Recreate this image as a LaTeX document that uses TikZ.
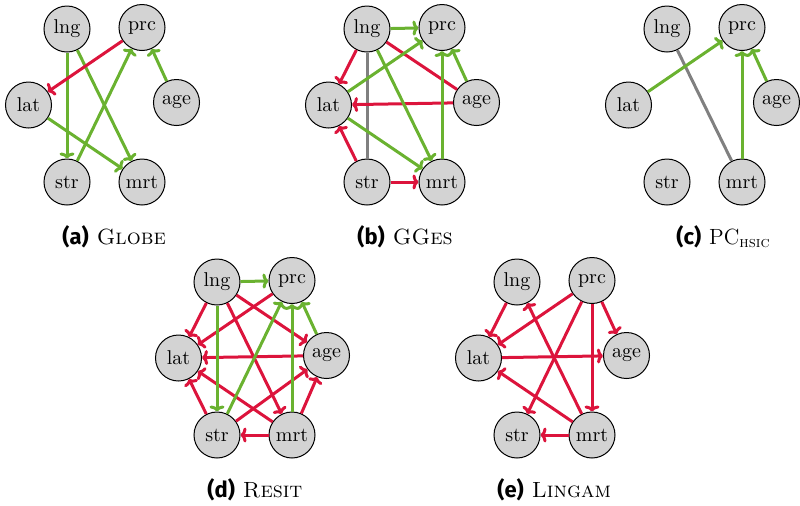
\documentclass[tikz,border=0pt]{standalone}
\usepackage{fontspec}
\newfontfamily\capfont{Fira Sans}
\usetikzlibrary{arrows.meta}
\definecolor{posgreen}{RGB}{106,178,48}
\definecolor{negred}{RGB}{220,20,60}
\definecolor{undgray}{RGB}{128,128,128}
\definecolor{vtxfill}{RGB}{211,211,211}

\tikzset{
  vtx/.style={circle, draw=black, line width=0.5pt, fill=vtxfill,
    minimum size=23pt, inner sep=0pt, font=\normalsize},
  edgeline/.style={line width=1.5pt},
  tipped/.style={-{To[length=3pt,width=7.5pt]}},
  gr/.style={edgeline, draw=posgreen, tipped},
  rd/.style={edgeline, draw=negred, tipped},
  rdline/.style={edgeline, draw=negred},
  gy/.style={edgeline, draw=undgray},
  captext/.style={anchor=base west, inner sep=0pt, font=\fontsize{11}{13}\selectfont},
}

% six variables placed round a panel centre (#2,#3), names prefixed by #1
\newcommand\graphnodes[3]{%
  \node[vtx] (#1lng) at ({#2-37.5},{#3-76})   {lng};
  \node[vtx] (#1prc) at ({#2+37.5},{#3-77.5}) {prc};
  \node[vtx] (#1lat) at ({#2-76},{#3})        {lat};
  \node[vtx] (#1age) at ({#2+72},{#3-2.5})    {age};
  \node[vtx] (#1str) at ({#2-37.5},{#3+77})   {str};
  \node[vtx] (#1mrt) at ({#2+37.5},{#3+77})   {mrt};
}
\newcommand\caplabel[1]{{\capfont\bfseries(#1)}\hspace{4pt}}

\begin{document}
\begin{tikzpicture}[x=0.5pt,y=-0.5pt]
\useasboundingbox (0,0) rectangle (800,505);

% (a) Globe
\graphnodes{a}{104.5}{105}
\draw[gr] (alng) -- (astr);
\draw[gr] (alng) -- (amrt);
\draw[gr] (alat) -- (amrt);
\draw[gr] (astr) -- (aprc);
\draw[gr] (aage) -- (aprc);
\draw[rd] (aprc) -- (alat);
\node[captext] (capa) at (62,244) {\caplabel{a}\textsc{Globe}};

% (b) GGes
\graphnodes{b}{404.5}{105}
\draw[gy] (blng) -- (bstr);
\draw[rdline] (blng) -- (bage);
\draw[rd] (bage) -- (blat);
\draw[rd] (blng) -- (blat);
\draw[rd] (bstr) -- (blat);
\draw[rd] (bstr) -- (bmrt);
\draw[gr] (blng) -- (bprc);
\draw[gr] (blng) -- (bmrt);
\draw[gr] (blat) -- (bprc);
\draw[gr] (blat) -- (bmrt);
\draw[gr] (bmrt) -- (bprc);
\draw[gr] (bage) -- (bprc);
\node[captext] (capb) at (357,244) {\caplabel{b}\textsc{GGes}};

% (c) PC with HSIC test
\graphnodes{c}{704.5}{105}
\draw[gy] (clng) -- (cmrt);
\draw[gr] (clat) -- (cprc);
\draw[gr] (cmrt) -- (cprc);
\draw[gr] (cage) -- (cprc);
\node[captext] (capc) at (676,244) {\caplabel{c}PC\textsubscript{\textsc{hsic}}};

% (d) Resit
\graphnodes{d}{254.5}{358}
\draw[rd] (dlng) -- (dlat);
\draw[rd] (dprc) -- (dlat);
\draw[rd] (dage) -- (dlat);
\draw[rd] (dstr) -- (dlat);
\draw[rd] (dmrt) -- (dlat);
\draw[rd] (dlng) -- (dage);
\draw[rd] (dlng) -- (dmrt);
\draw[rd] (dstr) -- (dage);
\draw[rd] (dmrt) -- (dage);
\draw[rd] (dmrt) -- (dstr);
\draw[gr] (dlng) -- (dprc);
\draw[gr] (dlng) -- (dstr);
\draw[gr] (dstr) -- (dprc);
\draw[gr] (dmrt) -- (dprc);
\draw[gr] (dage) -- (dprc);
\node[captext] (capd) at (207,497) {\caplabel{d}\textsc{Resit}};

% (e) Lingam
\graphnodes{e}{554.5}{358}
\draw[rd] (elng) -- (elat);
\draw[rd] (eprc) -- (elat);
\draw[rd] (eprc) -- (estr);
\draw[rd] (eprc) -- (emrt);
\draw[rd] (eprc) -- (eage);
\draw[rd] (elat) -- (eage);
\draw[rd] (emrt) -- (elng);
\draw[rd] (emrt) -- (elat);
\draw[rd] (emrt) -- (estr);
\node[captext] (cape) at (497,497) {\caplabel{e}\textsc{Lingam}};
\end{tikzpicture}
\end{document}
